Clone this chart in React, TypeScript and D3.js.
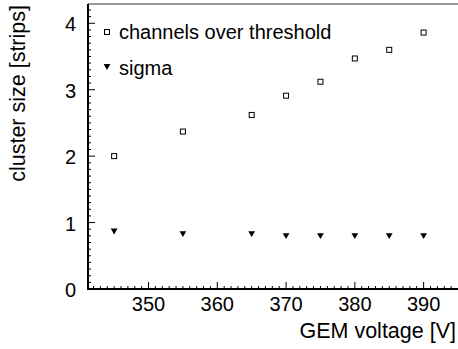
import React from "react";
import * as d3 from "d3";

const voltages = [345, 355, 365, 370, 375, 380, 385, 390];
const channelsOverThreshold = [2.0, 2.37, 2.62, 2.91, 3.12, 3.47, 3.6, 3.86];
const sigma = [0.88, 0.84, 0.84, 0.81, 0.81, 0.81, 0.81, 0.81];
const xTicks = [350, 360, 370, 380, 390];
const yTicks = [0, 1, 2, 3, 4];
const legendLabels = ["channels over threshold", "sigma"];

const W = 458;
const H = 349;
const FONT = "'Liberation Sans', Arial, Helvetica, sans-serif";

export default function App() {
  const x = d3.scaleLinear().domain([341.2, 395]).range([88, 458]);
  const y = d3.scaleLinear().domain([0, 4.29]).range([289, 4]);

  const xMinor = d3.range(342, 395, 1);
  const yMinor = d3.range(0, 4.3, 0.1);
  const tri = d3.symbol().type(d3.symbolTriangle).size(20)();

  return (
    <svg width={W} height={H} style={{ position: "absolute", left: 0, top: 0, background: "#fff" }}>
      <rect width={W} height={H} fill="#fff" />
      {/* top frame */}
      <line x1={88} x2={458} y1={4} y2={4} stroke="#777" strokeWidth={1.5} />
      {/* minor ticks */}
      {xMinor.map((v) => (
        <line key={"xm" + v} x1={x(v)} x2={x(v)} y1={289} y2={v % 10 === 0 ? 282 : 286} stroke="#000" strokeWidth={1} />
      ))}
      {yMinor.map((v, i) => (
        <line key={"ym" + i} x1={88} x2={i % 10 === 0 ? 95 : 91} y1={y(v)} y2={y(v)} stroke="#000" strokeWidth={1} />
      ))}
      {/* axes */}
      <line x1={88} x2={458} y1={289} y2={289} stroke="#000" strokeWidth={2} />
      <line x1={88} x2={88} y1={4} y2={290} stroke="#000" strokeWidth={2} />
      {/* tick labels */}
      {xTicks.map((v) => (
        <text key={"xt" + v} x={x(v)} y={311} textAnchor="middle" fontFamily={FONT} fontSize={20} fill="#000">
          {v}
        </text>
      ))}
      {yTicks.map((v) => (
        <text key={"yt" + v} x={76} y={y(v) + 8} textAnchor="end" fontFamily={FONT} fontSize={20} fill="#000">
          {v}
        </text>
      ))}
      {/* axis titles */}
      <text x={456} y={338} textAnchor="end" fontFamily={FONT} fontSize={21.5} fill="#000">
        GEM voltage [V]
      </text>
      <text
        transform={`translate(25,5) rotate(-90)`}
        textAnchor="end"
        fontFamily={FONT}
        fontSize={21.5}
        fill="#000"
      >
        cluster size [strips]
      </text>
      {/* data */}
      {voltages.map((v, i) => (
        <rect key={"c" + v} x={x(v) - 2.5} y={y(channelsOverThreshold[i]) - 2.5} width={5} height={5} fill="#fff" stroke="#000" strokeWidth={1} />
      ))}
      {voltages.map((v, i) => (
        <path key={"s" + v} d={tri} transform={`translate(${x(v)},${y(sigma[i])}) rotate(180)`} fill="#000" />
      ))}
      {/* legend */}
      <rect x={104.5} y={29.5} width={5} height={5} fill="#fff" stroke="#000" strokeWidth={1} />
      <text x={119} y={39} fontFamily={FONT} fontSize={20} fill="#000">
        {legendLabels[0]}
      </text>
      <path d={tri} transform={`translate(107,66) rotate(180)`} fill="#000" />
      <text x={119} y={75} fontFamily={FONT} fontSize={20} fill="#000">
        {legendLabels[1]}
      </text>
    </svg>
  );
}
